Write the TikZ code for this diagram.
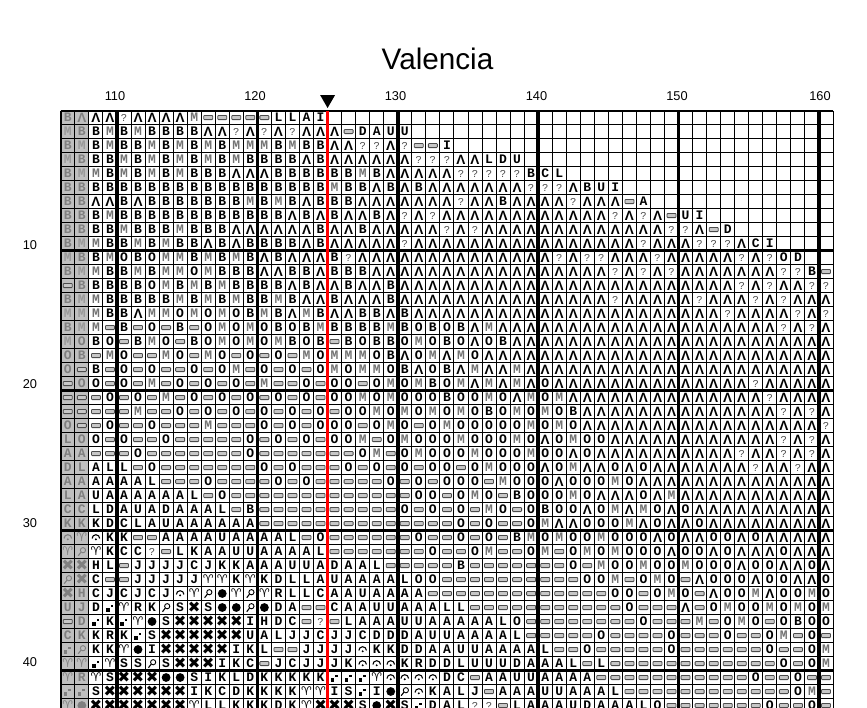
\documentclass[tikz,border=0pt]{standalone}
\usepackage{fontspec}
\setmainfont{Liberation Sans}
\newfontfamily\lmono{Liberation Mono}
\newfontfamily\djv{DejaVu Sans}
\colorlet{silv}{black!25}
\tikzset{
  lt/.style={inner sep=0pt, font=\lmono\bfseries\fontsize{13}{13}\selectfont},
  lam/.style={inner sep=0pt, font=\bfseries\fontsize{13.5}{13.5}\selectfont},
  qs/.style={inner sep=0pt, text=black!70, font=\lmono\fontsize{10.5}{10.5}\selectfont},
  rs/.style={draw=black!70, fill=black!22, minimum width=9pt, minimum height=4.2pt, inner sep=0pt, rounded corners=0.8pt, line width=0.8pt},
  sy/.style={inner sep=0pt, font=\djv\fontsize{12}{12}\selectfont},
  syx/.style={inner sep=0pt, font=\djv\fontsize{15}{15}\selectfont},
  gl/.style={line width=0.9pt},
  gthick/.style={line width=3.5pt},
  collab/.style={font=\fontsize{12.8}{13}\selectfont, inner sep=0pt},
  pics/magn/.style={code={\draw[line width=0.9pt] (1.1pt,1.3pt) circle (2.6pt); \draw[line width=1.1pt] (-0.8pt,-0.6pt) -- (-3.6pt,-4.2pt);}},
  pics/archd/.style={code={\draw[line width=1.1pt] (-3.8pt,-1pt) arc (180:0:3.8pt); \fill (0pt,-1.8pt) circle (1.1pt);}},
  pics/dsq/.style={code={\fill (-3.6pt,-4pt) rectangle (-0.4pt,-0.8pt); \fill (0.6pt,0.2pt) rectangle (3.2pt,2.8pt);}},
}
\newcount\ci
\def\chartrow#1#2{\edef\cy{\the\numexpr#1-1\relax.5}\ci=0 \parsechars#2\relax}
\def\parsechars#1{\ifx#1\relax\else\edef\cx{\the\ci.5}\ifnum\ci<2 \def\mycol{black!50}\def\mycolM{black!40}\else\def\mycol{black}\def\mycolM{black!55}\fi\csname sym#1\endcsname\global\advance\ci by 1 \expandafter\parsechars\fi}
\def\defletter#1{\expandafter\def\csname sym#1\endcsname{\node[lt,text=\mycol] at (\cx,\cy) {#1};}}
\defletter B\defletter O\defletter L\defletter A\defletter I\defletter D\defletter U\defletter C\defletter K\defletter H\defletter J\defletter R\defletter S
\expandafter\def\csname symM\endcsname{\node[lt,text=\mycolM] at (\cx,\cy) {M};}
\expandafter\def\csname symv\endcsname{\node[lam,text=\mycol] at (\cx,\cy) {Λ};}
\expandafter\def\csname symq\endcsname{\node[qs] at (\cx,\cy) {?};}
\expandafter\def\csname symr\endcsname{\node[rs] at (\cx,\cy) {};}
\expandafter\def\csname symx\endcsname{\node[syx,text=\mycol] at (\cx,\cy) {✖};}
\expandafter\def\csname symy\endcsname{\node[sy,text=\mycol] at (\cx,\cy) {♈};}
\expandafter\def\csname symo\endcsname{\fill[\mycol] (\cx,\cy) circle (4.4pt);}
\expandafter\def\csname symp\endcsname{\pic[\mycol] at (\cx,\cy) {magn};}
\expandafter\def\csname symn\endcsname{\pic[\mycol] at (\cx,\cy) {archd};}
\expandafter\def\csname symd\endcsname{\pic[\mycol] at (\cx,\cy) {dsq};}
\expandafter\def\csname sym.\endcsname{}
\begin{document}
\begin{tikzpicture}[x=1pt,y=-1pt]
\useasboundingbox (0,0) rectangle (867,707);
\clip (0,0) rectangle (867,707);
\fill[white] (0,0) rectangle (867,707);
\node[font=\fontsize{29.7}{30}\selectfont, anchor=base, inner sep=0pt] (title) at (437.5,69) {Valencia};
\foreach \lx/\lt in {115/110,255/120,395.5/130,536.5/140,677/150,820/160}
  \node[collab] (c\lt) at (\lx,96) {\lt};
\foreach \ly/\lt in {245/10,384/20,523/30,662/40}
  \node[collab] (r\lt) at (30,\ly) {\lt};
\fill (320.1,95) -- (335.1,95) -- (327.6,108) -- cycle;
\begin{scope}[shift={(60.8,110.5)}, x=14.04pt, y=-14pt]
\fill[silv] (0,0) rectangle (2,43);
\chartrow{1}{Bvvv qvvvvMrrrr rLLAI..... .......... .......... .......... .}
\chartrow{2}{MBBM BMBBBBvvqv qvqvvvrDAU U......... .......... .......... .}
\chartrow{3}{BMBM BBMBMBMBMM MBMBBvvqqv qrrI...... .......... .......... .}
\chartrow{4}{MBBB MBMBMBMBMB BBBvBvvvvv vqqqvvLDU. .......... .......... .}
\chartrow{5}{BMMB MBMBMBBBvv vBBBBBBMBv vvvvqqqqqB CL........ .......... .}
\chartrow{6}{BBBB BBBBBBBBBB BBBBBMBBvB vBvvvvvvvq qqvBUI.... .......... .}
\chartrow{7}{BBvv BvBBBBBBBM BMBvBBBvvv vvvvqvvBvv vvqvvvrA.. .......... .}
\chartrow{8}{BBBM BBBBBBBBBB BBvBvBvvBv qvqvvvvvvv vvvvvqvqvr UI........ .}
\chartrow{9}{BBBB MBBBMBBBvv vvvvBvvBvv vvvqvqvvvv vvvvvvvvvq qvrD...... .}
\chartrow{10}{BMMB BMBMBBvBvB BBBvBvvvvv qvvvvvvvvv vvvvvvvqvv vqqqvCI... .}
\chartrow{11}{MBBM OBOMMBMBMB vBvvvBqvvv vvvvvvvvvv vqvqqvvvqv vvvvqvqOD. .}
\chartrow{12}{BMMB BMBMMOMBBB vvBBvBBBvv vvvvvvvvvv vvvvvqvqvq vvvvvvvqqB r}
\chartrow{13}{rBBB BBOMBMBMBB BBvBvvBvvB vvvvvvvvvv vvvvvvvvvv vvvvqvqvvq q}
\chartrow{14}{BMMB BBBBMBMBMB BMBvvBvvvB vvvvvvvvvv vvvvvqvvvv vqvvvqvqvv v}
\chartrow{15}{MMMB BvMMOMOMOB MBvMBvvBBv Bvvvvvvvvv vvvvvvvvvv vvvqvvvvqv q}
\chartrow{16}{BMMr BrOrBrOMOM OBOBMBBBBM BOBOBvMvvv vvvvvvvvvv vvvvvvvqvq v}
\chartrow{17}{MOBO rBMOrBOMOM OMBOBrBOBB OMOBOvOBvv vvvvvvvvvv vvvvvvvvvv v}
\chartrow{18}{OBrM OrrMOrMOrO rOrMOMMMOB vOMvMOvvvv vvvvvvvvvv vvvvvvvvvv v}
\chartrow{19}{OrBr OrOrrOrOMr OrOrOMOMMO BvOBvMvvMv vvvvvvvvvv vvvvvvvvvv v}
\chartrow{20}{rOOr OrMrOrOrOr MrrOrOOrOM OMBOMvMvMv Ovvvvvvvvv vvvvvqvvvv v}
\chartrow{21}{rrrO rOrMrOrOrO rOrOrOOMOM OOOBOOMOvM OMvvvvvvvv vvvvvvqvvv v}
\chartrow{22}{rrrr rMrrOrOrOr OrOrOrOOMO MOMOMOBOMO MOBvvvvvvv vvvvvvvqvq v}
\chartrow{23}{OrrO rrOrrrMrrr OrOrOOOrOM OrOMOOOOOM OMOvvvvvvv vvvvvvvvvv q}
\chartrow{24}{LOOr OrrOrrrrrO rOrOrOOMrO MOOOMOOOMO vOMOOvvvvv vvvvvvvqvq v}
\chartrow{25}{AArr rOrrrrrrrO rrrrrrrOMr OMOOOMOOOM OOvOvvvvvv vvvvqvvqvq v}
\chartrow{26}{DLAL LrOrrrrrrr OrOrrrOrOr OrOOrOMOOO vOMvvOvOvv vvvvvqvvqv v}
\chartrow{27}{AAAA AALrrrOrrr rOrOrrrrrO rOrOOOrMOO OvOOOMOvvv vvvvvvvvvv v}
\chartrow{28}{LAUA AAAAALrOrr rrrrrrrrrr rOOrOMOrBO OOMOvvvOvM vvvvvvvvvv v}
\chartrow{29}{CCLD AUADAAALrB rrrrrrrrrr OrOrOrMOrO BOOvOMvMOv Ovvvvvvvvv v}
\chartrow{30}{KKKD CLAUAAAAAA rrrrrrrrrr rrrrOrOrrO MvvOOOMvOv vOvvvvvvvv v}
\chartrow{31}{nynK KrrAAAAUAA AALrOrrrrr rOrrOrOrBM OMOOMOOOvO vvOOvOvvvv v}
\chartrow{32}{ypyK CCqrLKAAUU AAAALrrrrr rrOrrOMrrO MrOMOMOOOv OOvOvvvOvv v}
\chartrow{33}{xxHL rJJJJCJKKA AAUUADAALr rrrrBrrrrr rrOrMOOMOO MOOOvOOvvO v}
\chartrow{34}{pxCr rJJJJJyyKy KDLLAUAAAA LOOrrrrrrr rrrOOMrOMO rvOOOvOOvv O}
\chartrow{35}{xHCJ CJCJnypoyp yRLLCAAUAA AArrrrrrrr rrrrrOOrOM OrvOOMvOOM O}
\chartrow{36}{UJDd yRKpSxSoop oDArrCAAUU AAALLrrrrr rrrrrrOrrr vrOMOOMOMO M}
\chartrow{37}{rDdK dyoSxxxxxI HDCrqrLAAA UUAAAAALOr rrrrrrrOrr rMrOMOrOBO O}
\chartrow{38}{CKKR KdSxxxxxxU ALJJCJJCDD DAUUAAAALr rrrrOrrrrO rrrOrrOMrO r}
\chartrow{39}{dpKK yoIxxxxxIK LrrJJJJnKK DDAAUUAAAA LrrOrrrrrO rrrrrrOrrO M}
\chartrow{40}{yydy SSpSxxxIKC rJCJJJKnnn KRDDLUUUDA AALrLrrrrr rrrrrrrOrO M}
\chartrow{41}{yRyS xxxooSIKLD KKKKKdddyn nnnDCrAAUU AAAArrrrrr rrrrrOrrOr r}
\chartrow{42}{ddSx xxxxxIKCDK KKKyyISdIo pnKALJrAAA UUAAALrrrr rrrrrrrrOM r}
\chartrow{43}{yoxx xxxxxyLLKK KDKyxxxSox SdDALqqrLA AAUDAAALOr rrrrrrOrrO r}
\foreach \i in {0,...,55} \draw[gl] (\i,0) -- (\i,43);
\foreach \j in {0,...,43} \draw[gl] (0,\j) -- (55,\j);
\foreach \i in {4,14,...,54} \draw[gthick] (\i,0) -- (\i,43);
\foreach \j in {10,20,30,40} \draw[gthick] (0,\j) -- (55,\j);
\draw[line width=2pt] (0,0) -- (55,0);
\draw[line width=1.5pt] (0,0) -- (0,43);
\draw[red, line width=2.6pt] (19,0) -- (19,43);
\end{scope}
\end{tikzpicture}
\end{document}
